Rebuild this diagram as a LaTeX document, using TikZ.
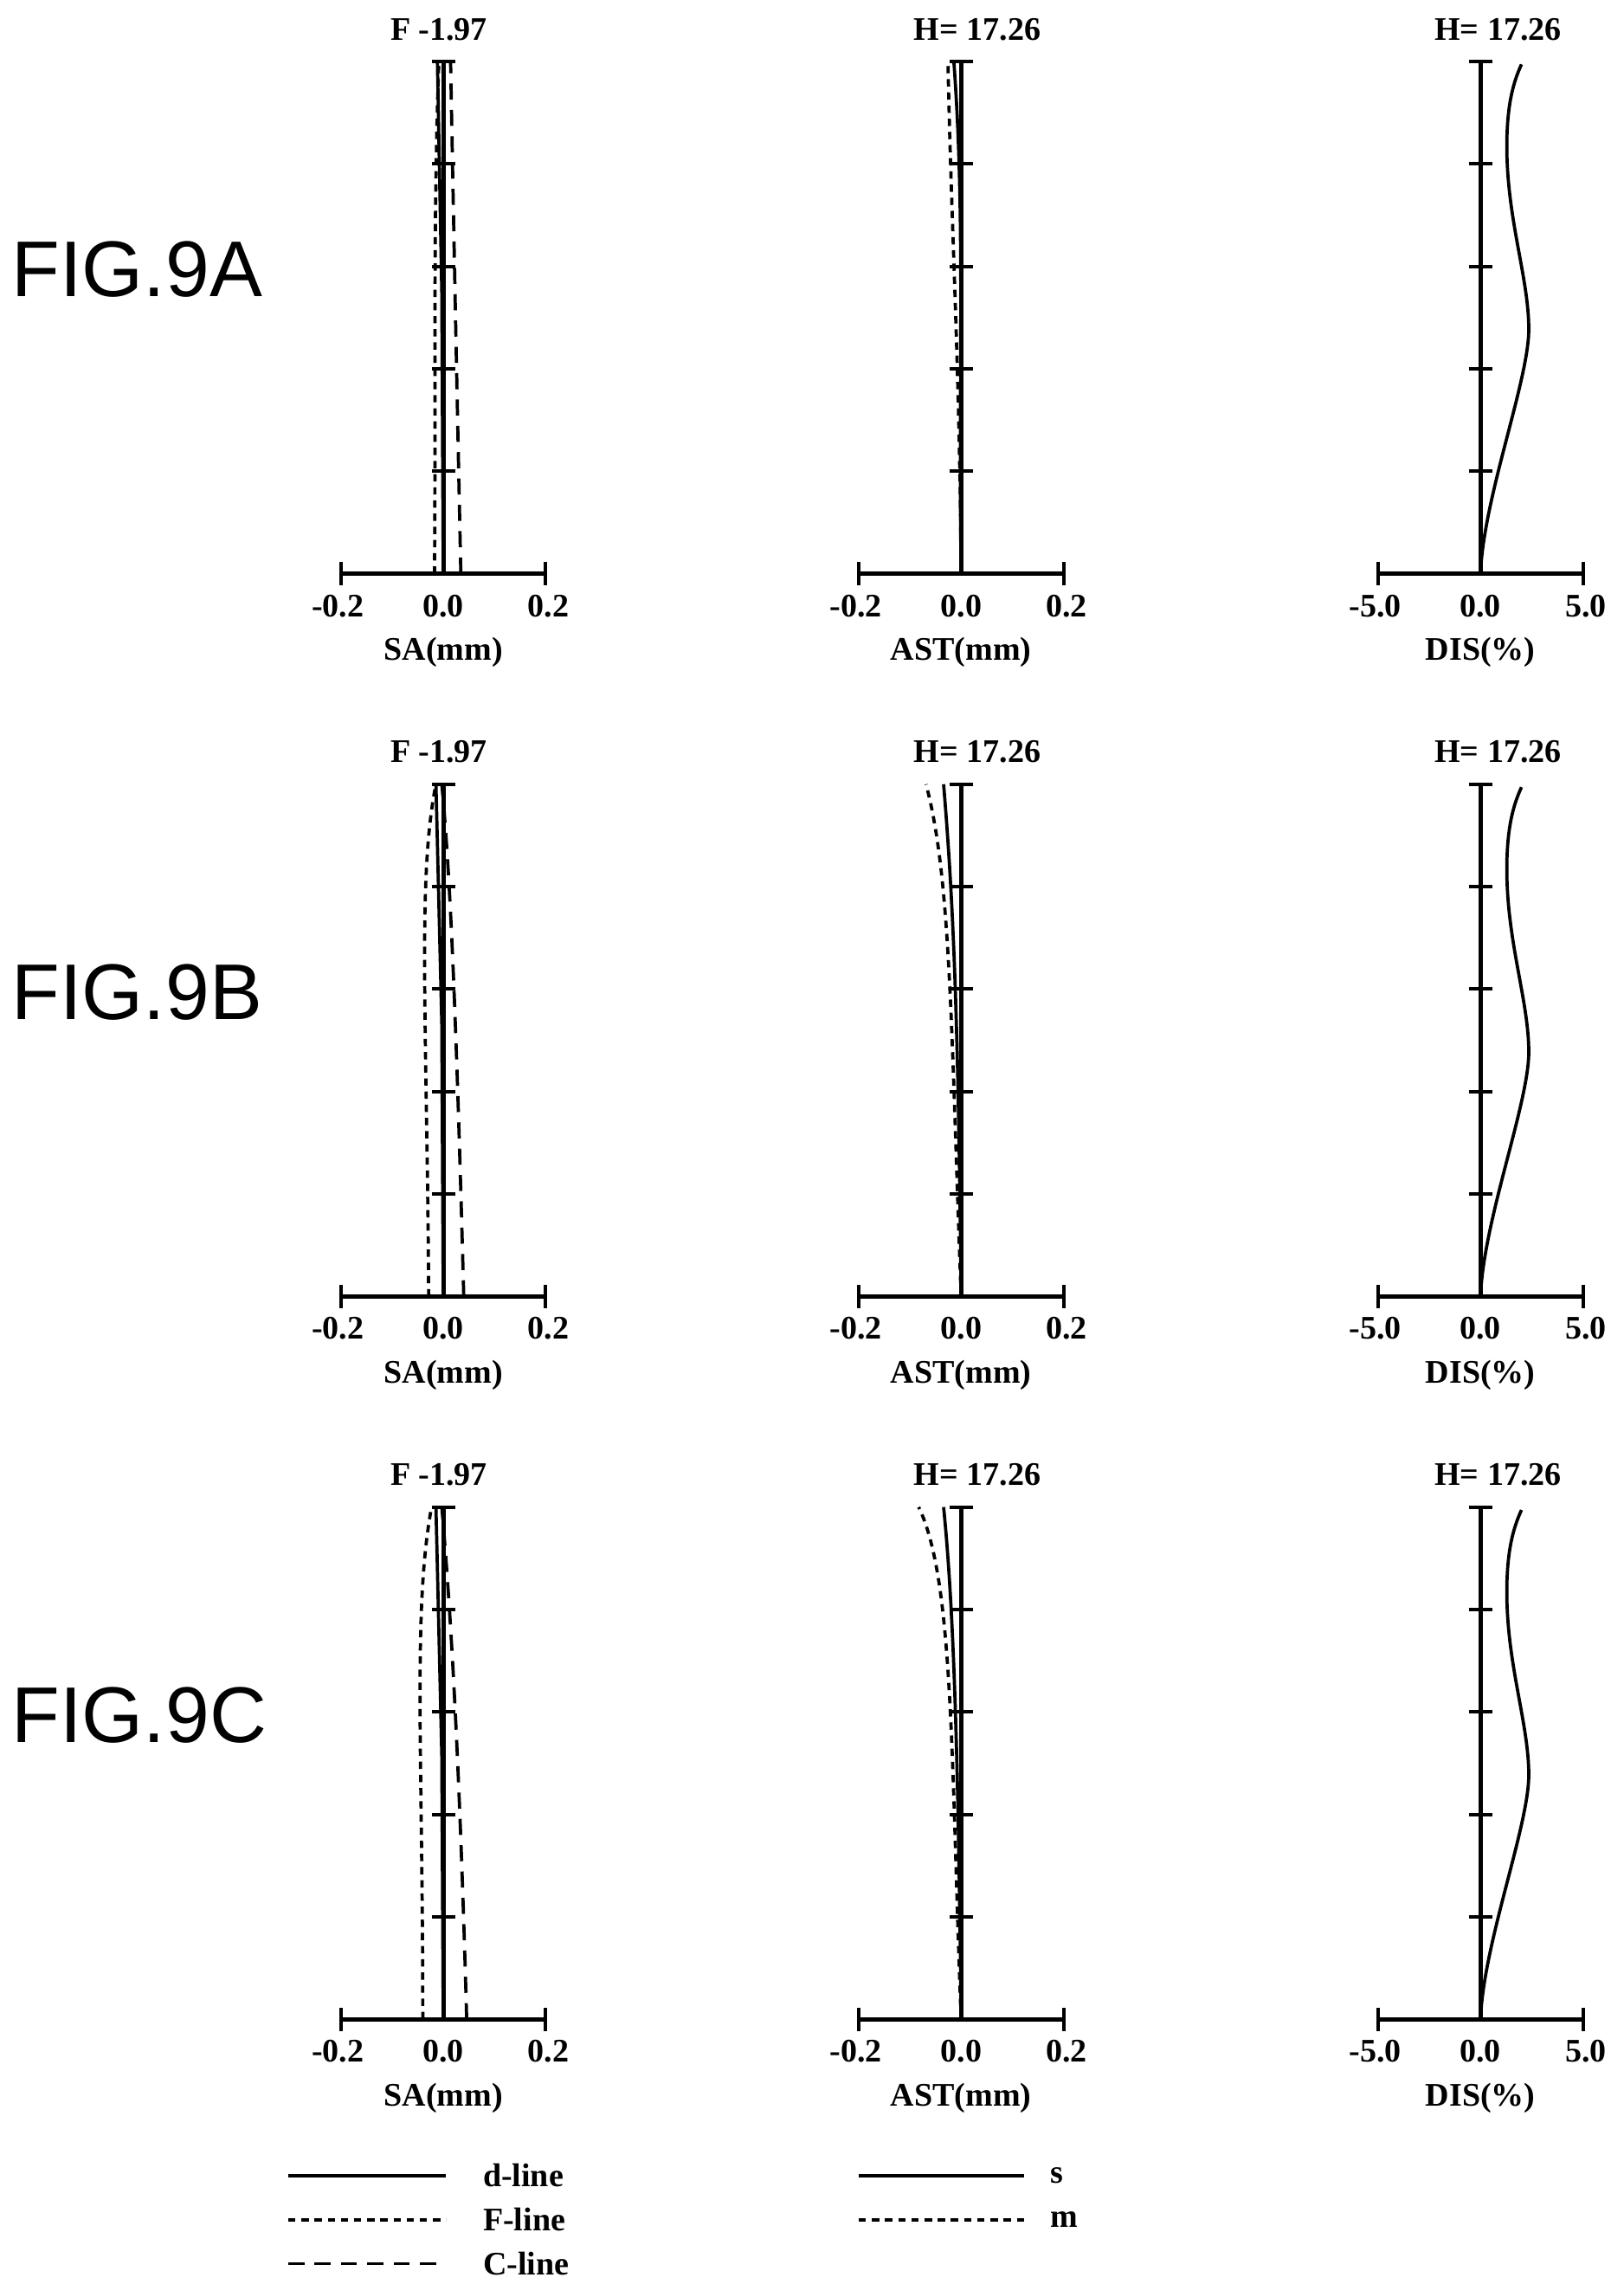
\documentclass[tikz,border=0pt]{standalone}
\usepackage{fontspec}
\setmainfont{Liberation Serif}
\newfontfamily\figfont{Liberation Sans}
\begin{document}
\begin{tikzpicture}[x=1pt,y=-1pt,
 ax/.style={line width=3pt},
 crv/.style={line width=2.2pt},
 dot/.style={crv,dash pattern=on 5pt off 4pt},
 dsh/.style={crv,dash pattern=on 11pt off 7pt},
 lbl/.style={font=\fontsize{22.5}{22.5}\selectfont\bfseries,inner sep=0pt},
 fig/.style={font=\figfont\fontsize{54}{54}\selectfont,inner sep=0pt,anchor=west}]
\useasboundingbox (0,0) rectangle (1110,1561);
\foreach \r/\oy/\nm in {0/0/A,1/494/B,2/988/C}{
 \node[fig] (fig\r) at (8,184+\oy) {FIG.9\nm};
 \foreach \cx/\tl/\xl/\lo/\mid/\hi/\tx in {303/{F -1.97}/SA(mm)/-0.2/0.0/0.2/300, 657/{H= 17.26}/AST(mm)/-0.2/0.0/0.2/668, 1012/{H= 17.26}/DIS(\%)/-5.0/0.0/5.0/1024}{
  \draw[ax] (\cx,42+\oy) -- (\cx,392+\oy);
  \draw[ax] (\cx-70,392+\oy) -- (\cx+70,392+\oy);
  \draw[line width=2.4pt] (\cx-70,384+\oy) -- (\cx-70,400+\oy) (\cx+70,384+\oy) -- (\cx+70,400+\oy) (\cx-8,42+\oy) -- (\cx+8,42+\oy);
  \foreach \ty in {112,182,252,322} \draw[line width=2.4pt] (\cx-8,\ty+\oy) -- (\cx+8,\ty+\oy);
  \node[lbl] (t\r\cx) at (\tx,20+\oy) {\tl};
  \node[lbl] (a\r\cx) at (\cx-72,414+\oy) {\lo};
  \node[lbl] (b\r\cx) at (\cx,414+\oy) {\mid};
  \node[lbl] (c\r\cx) at (\cx+72,414+\oy) {\hi};
  \node[lbl] (x\r\cx) at (\cx,446+\oy) {\xl};
 }
}
% SA row 1
\draw[crv] (303,392) -- (302,200) -- (299,42);
\draw[dot] (297,392) .. controls (298,250) and (296,150) .. (300,42);
\draw[dsh] (315,392) .. controls (312,250) and (310,150) .. (308,42);
% SA row 2
\draw[crv] (303,886) -- (302,700) -- (298,536);
\draw[dot] (293,886) .. controls (292,700) and (285,600) .. (298,536);
\draw[dsh] (317,886) .. controls (312,700) and (308,600) .. (302,536);
% SA row 3
\draw[crv] (303,1380) -- (302,1200) -- (298,1030);
\draw[dot] (289,1380) .. controls (289,1200) and (282,1100) .. (295,1030);
\draw[dsh] (319,1380) .. controls (314,1200) and (308,1100) .. (302,1030);
% AST
\draw[crv] (657,392) .. controls (655,250) and (660,150) .. (652,42);
\draw[dot] (657,392) .. controls (656,250) and (650,150) .. (648,42);
\draw[crv] (657,886) .. controls (655,700) and (652,620) .. (645,536);
\draw[dot] (657,886) .. controls (650,700) and (650,600) .. (633,536);
\draw[crv] (657,1380) .. controls (655,1200) and (652,1100) .. (645,1030);
\draw[dot] (657,1380) .. controls (650,1200) and (652,1080) .. (628,1030);
% DIS
\foreach \oy in {0,494,988}
 \draw[crv] (1012,392+\oy) .. controls (1014,340+\oy) and (1045,260+\oy) .. (1045,225+\oy)
  .. controls (1045,190+\oy) and (1030,150+\oy) .. (1030,100+\oy)
  .. controls (1030,70+\oy) and (1035,55+\oy) .. (1040,44+\oy);
% legend
\draw[crv] (197,1487) -- (305,1487); \node[lbl,anchor=west] (ld) at (330,1487) {d-line};
\draw[dot] (197,1517) -- (305,1517); \node[lbl,anchor=west] (lf) at (330,1517) {F-line};
\draw[dsh] (197,1547) -- (305,1547); \node[lbl,anchor=west] (lc) at (330,1547) {C-line};
\draw[crv] (587,1487) -- (700,1487); \node[lbl,anchor=west] (ls) at (718,1487) {s};
\draw[dot] (587,1517) -- (700,1517); \node[lbl,anchor=west] (lm) at (718,1517) {m};
\end{tikzpicture}
\end{document}
